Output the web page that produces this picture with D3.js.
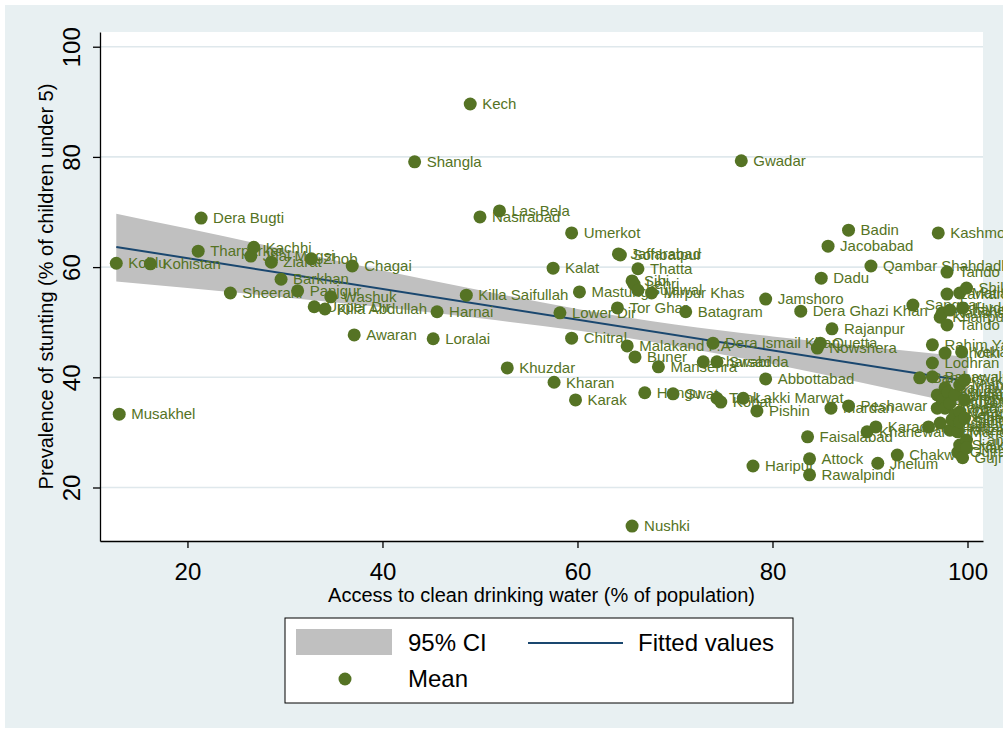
<!DOCTYPE html>
<html><head><meta charset="utf-8">
<script src="https://cdn.jsdelivr.net/npm/d3@7"></script>
<style>
body{margin:0;background:#fff}
svg{display:block}
text{font-family:"Liberation Sans",Arial,Helvetica,sans-serif}
</style>
</head><body>
<svg id="chart" width="1003" height="733"></svg>
<script>
// ---------------- data ----------------
const districts = ["Kohlu","Musakhel","Kohistan","Tharparkar","Dera Bugti","Sheerani","Jhal Magsi","Kachhi","Ziarat","Barkhan",
"Panjgur","Zhob","Upper Dir","Killa Abdullah","Washuk","Chagai","Awaran","Shangla","Loralai","Harnai",
"Killa Saifullah","Kech","Nasirabad","Las Bela","Khuzdar","Kalat","Kharan","Lower Dir","Umerkot","Chitral",
"Karak","Mastung","Tor Ghar","Jaffarabad","Sohbatpur","Malakand P.A","Nushki","Sibi","Lehri","Buner",
"Thatta","Sujawal","Hangu","Mirpur Khas","Mansehra","Swat","Batagram","Charsadda","Dera Ismail Khan","Swabi",
"Tank","Kohat","Gwadar","Lakki Marwat","Haripur","Pishin","Abbottabad","Jamshoro","Dera Ghazi Khan","Faisalabad",
"Attock","Rawalpindi","Nowshera","Quetta","Dadu","Jacobabad","Mardan","Rajanpur","Badin","Peshawar",
"Khanewal","Qambar Shahdadkot","Karachi","Jhelum","Chakwal","Sanghar","Bannu","Pakpattan","Rahim Yar Khan","Lodhran",
"Bahawalnagar","Layyah","Bhakkar","Kashmore","Khairpur","Kasur","Naushahro Feroze","Jhang","Ghotki","Bahawalpur",
"Sargodha","Tando Allahyar","Larkana","Tando Muhammad Khan","Khushab","Shaheed Benazirabad","Muzaffargarh","Hafizabad","Chiniot","Multan",
"Nankana Sahib","Mandi Bahauddin","Gujranwala","Matiari","Mianwali","Okara","Sahiwal","Sialkot","Vehari","Hyderabad",
"Gujrat","Sheikhupura","Toba Tek Singh","Sukkur","Shikarpur","Lahore","Narowal"];

const waterAccess = [12.7,13.0,16.2,21.1,21.4,24.4,26.5,26.8,28.6,29.6,
31.3,32.7,33.0,34.1,34.7,36.9,37.1,43.3,45.2,45.6,
48.6,49.0,50.0,52.0,52.8,57.5,57.6,58.2,59.4,59.4,
59.8,60.2,64.1,64.2,64.4,65.1,65.6,65.6,65.8,65.9,
66.2,66.2,66.9,67.6,68.3,69.8,71.1,72.9,73.9,74.3,
74.3,74.7,76.8,77.0,78.0,78.4,79.3,79.3,82.9,83.6,
83.8,83.8,84.6,84.9,85.0,85.7,86.0,86.1,87.8,87.8,
89.7,90.1,90.6,90.8,92.8,94.4,95.1,96.0,96.4,96.4,
96.4,96.9,96.9,97.0,97.2,97.2,97.4,97.4,97.7,97.7,
97.7,97.9,97.9,97.9,98.0,98.2,98.2,98.2,98.4,98.7,
98.7,99.0,99.0,99.2,99.2,99.2,99.2,99.2,99.4,99.5,
99.5,99.7,99.7,99.7,99.9,99.9,99.9];

const stunting = [60.7,33.3,60.6,62.9,68.9,55.3,62.0,63.6,60.9,57.8,
55.7,61.5,52.8,52.4,54.6,60.2,47.7,79.1,47.0,51.9,
54.9,89.6,69.1,70.2,41.7,59.8,39.1,51.7,66.2,47.1,
35.9,55.5,52.6,62.4,62.2,45.7,13.0,57.5,56.9,43.7,
59.7,55.8,37.2,55.3,41.9,37.0,51.9,42.8,46.2,42.8,
36.2,35.5,79.3,36.2,23.9,33.9,39.7,54.2,52.0,29.2,
25.2,22.3,45.3,46.2,58.0,63.8,34.4,48.8,66.7,34.8,
30.1,60.2,31.0,24.4,25.9,53.1,39.9,31.0,45.9,42.6,
40.1,34.4,36.8,66.2,50.9,31.7,51.7,35.9,44.4,38.1,
34.4,59.1,55.1,49.5,37.3,52.2,35.3,30.4,32.3,36.8,
33.2,30.1,26.4,55.3,38.6,33.7,31.9,27.7,44.6,52.6,
25.4,32.6,35.9,39.5,56.2,28.6,27.2];

// linear fit and its 95% confidence band
const fitX = [12.7, 100];
const fitY = [63.66, 39.30];
const ciX    = [12.7, 20, 30, 40, 50, 60, 70, 80, 90, 100];
const ciLow  = [57.4, 56.2, 54.5, 52.7, 50.7, 48.5, 45.7, 42.4, 38.7, 34.9];
const ciHigh = [69.7, 67.0, 63.2, 59.4, 55.8, 52.4, 49.6, 47.4, 45.5, 43.7];

const xTicks = [20, 40, 60, 80, 100];
const yTicks = [20, 40, 60, 80, 100];
const xTitle = "Access to clean drinking water (% of population)";
const yTitle = "Prevalence of stunting (% of children under 5)";
const legendLabels = ["95% CI", "Fitted values", "Mean"];

// ---------------- styles ----------------
const bgColor = "#e8f0f2", gridColor = "#dfe8ec";
const dotColor = "#557324", lineColor = "#1a476f", bandColor = "#c0c0c0";

const svg = d3.select("#chart");
const plot = {left: 100, right: 983, top: 32, bottom: 541};

const x = d3.scaleLinear().domain([11.03, 101.59]).range([plot.left, plot.right]);
const y = d3.scaleLinear().domain([10.29, 102.67]).range([plot.bottom, plot.top]);

// outer background
svg.append("rect").attr("x",0).attr("y",0).attr("width",1003).attr("height",733).attr("fill","#fff");
svg.append("rect").attr("x",5).attr("y",5).attr("width",1003).attr("height",723).attr("fill",bgColor);
// plot region
svg.append("rect").attr("x",plot.left).attr("y",plot.top)
  .attr("width",plot.right-plot.left).attr("height",plot.bottom-plot.top).attr("fill","#fff");

// gridlines
svg.append("g").selectAll("line").data(yTicks).join("line")
  .attr("x1",plot.left).attr("x2",plot.right)
  .attr("y1",d=>y(d)).attr("y2",d=>y(d))
  .attr("stroke",gridColor).attr("stroke-width",1.6);

// CI band
const ciData = ciX.map((v,i)=>({x:v, lo:ciLow[i], hi:ciHigh[i]}));
svg.append("path").datum(ciData)
  .attr("d", d3.area().x(d=>x(d.x)).y0(d=>y(d.lo)).y1(d=>y(d.hi)).curve(d3.curveMonotoneX))
  .attr("fill", bandColor);

// fitted line
const fitData = fitX.map((v,i)=>({x:v, y:fitY[i]}));
svg.append("path").datum(fitData)
  .attr("d", d3.line().x(d=>x(d.x)).y(d=>y(d.y)))
  .attr("fill","none").attr("stroke",lineColor).attr("stroke-width",2);

// points with labels
const pts = districts.map((n,i)=>({name:n, x:waterAccess[i], y:stunting[i]}));
const pg = svg.append("g").selectAll("g").data(pts).join("g");
pg.append("circle").attr("cx",d=>x(d.x)).attr("cy",d=>y(d.y)).attr("r",6.5).attr("fill",dotColor);
pg.append("text").attr("x",d=>x(d.x)+12).attr("y",d=>y(d.y)).attr("dy","0.35em")
  .attr("font-size",15).attr("fill",dotColor).text(d=>d.name);

// axes
const xAxis = svg.append("g").attr("transform",`translate(0,${plot.bottom})`)
  .call(d3.axisBottom(x).tickValues(xTicks).tickSize(7).tickSizeOuter(0).tickFormat(d3.format("d")));
xAxis.selectAll("text").attr("y",31).attr("dy","0.35em").attr("font-size",24).attr("fill","#000");
const yAxis = svg.append("g").attr("transform",`translate(${plot.left},0)`)
  .call(d3.axisLeft(y).tickValues(yTicks).tickSize(7).tickSizeOuter(0).tickFormat(d3.format("d")));
yAxis.selectAll("text").attr("x",null).attr("dy","0.35em").attr("text-anchor","middle")
  .attr("transform","translate(-28,0) rotate(-90)").attr("font-size",24).attr("fill","#000");
[xAxis,yAxis].forEach(a=>{
  a.select(".domain").attr("stroke","#000").attr("stroke-width",1.3);
  a.selectAll(".tick line").attr("stroke","#000").attr("stroke-width",1.3);
});

// titles
svg.append("text").attr("x",(plot.left+plot.right)/2).attr("y",595).attr("dy","0.35em")
  .attr("text-anchor","middle").attr("font-size",20).text(xTitle);
svg.append("text").attr("transform",`translate(46,${(plot.top+plot.bottom)/2}) rotate(-90)`)
  .attr("dy","0.35em").attr("text-anchor","middle").attr("font-size",20).text(yTitle);

// legend
const lg = svg.append("g");
lg.append("rect").attr("x",285).attr("y",618).attr("width",508).attr("height",85)
  .attr("fill","#fff").attr("stroke","#000").attr("stroke-width",1);
lg.append("rect").attr("x",296).attr("y",629).attr("width",96).attr("height",26).attr("fill",bandColor);
lg.append("line").attr("x1",528).attr("x2",623).attr("y1",643).attr("y2",643)
  .attr("stroke",lineColor).attr("stroke-width",2);
lg.append("circle").attr("cx",345).attr("cy",679).attr("r",6.5).attr("fill",dotColor);
lg.append("text").attr("x",408).attr("y",643).attr("dy","0.35em").attr("font-size",24).text(legendLabels[0]);
lg.append("text").attr("x",638).attr("y",643).attr("dy","0.35em").attr("font-size",24).text(legendLabels[1]);
lg.append("text").attr("x",408).attr("y",679).attr("dy","0.35em").attr("font-size",24).text(legendLabels[2]);
</script>
</body></html>
